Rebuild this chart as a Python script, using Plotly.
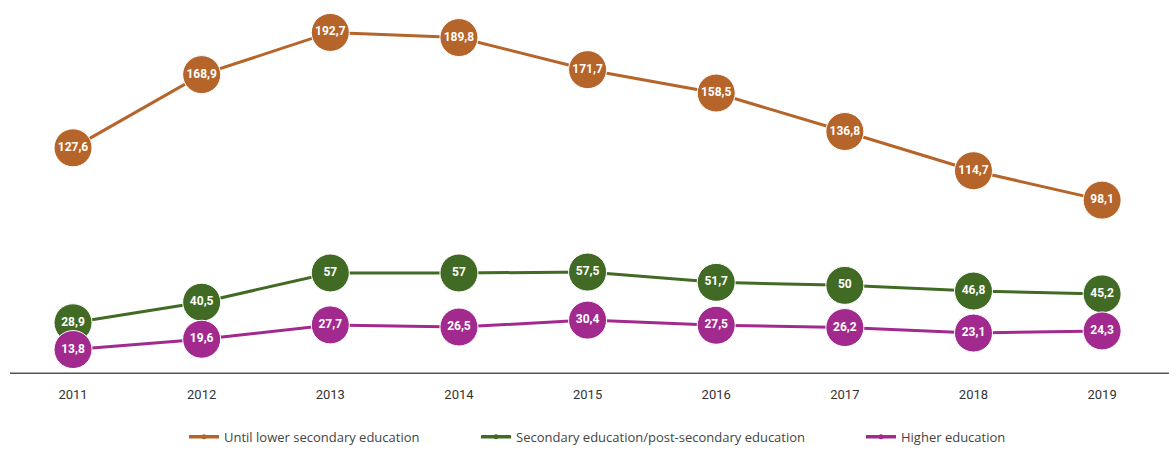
import plotly.graph_objects as go

years = [2011, 2012, 2013, 2014, 2015, 2016, 2017, 2018, 2019]
until_lower_secondary = [127.6, 168.9, 192.7, 189.8, 171.7, 158.5, 136.8, 114.7, 98.1]
secondary_post_secondary = [28.9, 40.5, 57, 57, 57.5, 51.7, 50, 46.8, 45.2]
higher_education = [13.8, 19.6, 27.7, 26.5, 30.4, 27.5, 26.2, 23.1, 24.3]

series = [
    ("Until lower secondary education", until_lower_secondary, "#b5642a"),
    ("Secondary education/post-secondary education", secondary_post_secondary, "#416b24"),
    ("Higher education", higher_education, "#a22a8e"),
]
legend_ids = ["legend", "legend2", "legend3"]
legend_left_px = [184, 476, 861]

PLOT_LEFT, PLOT_WIDTH = 10, 1159


def fmt(v):
    s = f"{v:g}"
    return s.replace(".", ",")


fig = go.Figure()
for name, vals, color in series:
    fig.add_trace(go.Scatter(
        x=years, y=vals, mode="lines+markers+text",
        line=dict(color=color, width=3),
        marker=dict(size=38, color=color, line=dict(color="#ffffff", width=1)),
        text=[fmt(v) for v in vals], textposition="middle center",
        textfont=dict(color="#ffffff", size=12, family="Roboto", weight="bold"),
        showlegend=False, hoverinfo="skip",
    ))

# small legend entries, one legend box per series
for (name, vals, color), lid in zip(series, legend_ids):
    fig.add_trace(go.Scatter(
        x=[None], y=[None], mode="lines+markers", name=name,
        line=dict(color=color, width=3.5),
        marker=dict(size=5, color=color),
        legend=lid,
    ))

legend_style = dict(
    orientation="h", yanchor="middle", y=-0.168, xanchor="left",
    font=dict(family="Open Sans", size=13, color="#444444"),
    bgcolor="rgba(0,0,0,0)",
)

fig.update_layout(
    width=1169, height=450,
    margin=dict(l=PLOT_LEFT, r=0, t=0, b=76, autoexpand=False),
    paper_bgcolor="#ffffff", plot_bgcolor="#ffffff",
    xaxis=dict(
        range=[2010.51, 2019.52], tickvals=years, ticktext=[str(y) for y in years],
        showgrid=False, zeroline=False, showline=False, ticks="",
        tickfont=dict(family="Roboto", size=13, color="#333333"),
        ticklabelstandoff=11,
    ),
    yaxis=dict(
        range=[0, 211], showgrid=False, zeroline=False, showline=False,
        showticklabels=False,
    ),
    shapes=[dict(type="line", xref="paper", yref="y", x0=0, x1=1, y0=0, y1=0,
                 line=dict(color="#555555", width=3), layer="below")],
)
for lid, px in zip(legend_ids, legend_left_px):
    fig.update_layout({lid: dict(legend_style, x=(px - PLOT_LEFT) / PLOT_WIDTH)})

fig.write_html("out.html")
